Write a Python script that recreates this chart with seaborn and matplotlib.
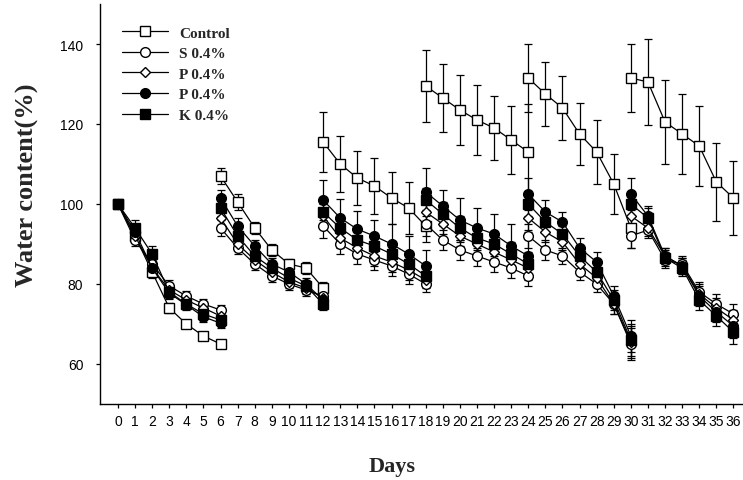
import matplotlib
matplotlib.use("Agg")
import numpy as np
import pandas as pd
import matplotlib.pyplot as plt
from matplotlib.lines import Line2D
import seaborn as sns

# Six 6-day drying cycles, each measured on 7 days (start day shared with previous end)
cycle_starts = [0, 6, 12, 18, 24, 30]
day_ticks = list(range(0, 37))

control = [100, 92, 83, 74, 70, 67, 65,
           107, 100.5, 94, 88.5, 85, 84, 79,
           115.5, 110, 106.5, 104.5, 101.5, 99, 94.5,
           129.5, 126.5, 123.5, 121, 119, 116, 113,
           131.5, 127.5, 124, 117.5, 113, 105, 94,
           131.5, 130.5, 120.5, 117.5, 114.5, 105.5, 101.5]
control_err = [0.5, 1.5, 1.5, 1.2, 1, 1, 1,
               2, 2, 1.5, 1.5, 1.2, 1.5, 1.5,
               7.5, 7, 6.7, 7, 6.5, 6.5, 4,
               9, 8.5, 8.7, 8.7, 8, 8.5, 12,
               8.5, 8, 8, 7.8, 8, 7.5, 5,
               8.5, 10.7, 10.5, 10, 10, 9.7, 9.2]

s_04 = [100, 91, 85, 79.5, 77, 75, 73.5,
        94, 89, 85, 82, 80, 78.5, 77,
        94.5, 90, 87.5, 86, 84.5, 82.5, 80,
        95, 91, 88.5, 87, 85.5, 84, 82,
        92, 88.5, 87, 83, 80, 75, 65,
        92, 93.5, 86, 85, 78, 75, 72.5]
s_04_err = [0.5, 1.5, 1.5, 1.5, 1.2, 1.2, 1.2,
            2, 1.5, 1.5, 1.5, 1.5, 1.5, 1.5,
            3, 2.5, 2.5, 2.5, 2.5, 2.5, 2,
            3, 2.5, 2.5, 2.5, 2.5, 2.5, 2.5,
            3, 2.5, 2, 2, 2, 2.5, 4,
            3, 2, 2, 2, 2.5, 2.5, 2.5]

p_04_open = [100, 92, 84, 78.5, 76, 74, 72,
             96.5, 90, 86, 83, 80.5, 79, 76.5,
             97, 91.5, 89, 87, 85.5, 83.5, 81,
             98, 95, 92, 90, 88, 86, 84,
             96.5, 93, 90.5, 85, 81.5, 75, 65.5,
             97, 94, 87, 84.5, 77.5, 74, 71]
p_04_open_err = [0.5, 1.5, 1.5, 1.5, 1.2, 1.2, 1.2,
                 2, 1.5, 1.5, 1.5, 1.5, 1.5, 1.5,
                 3, 2.5, 2.5, 2.5, 2.5, 2.5, 2,
                 3, 2.5, 2.5, 2.5, 2.5, 2.5, 2.5,
                 3, 2.5, 2, 2, 2, 2.5, 4,
                 3, 2, 2, 2, 2.5, 2.5, 2.5]

p_04_filled = [100, 93, 84, 77.7, 74.8, 71.8, 70.2,
               101.5, 94.5, 89.5, 85, 83, 80, 76,
               101, 96.5, 93.7, 92, 90, 87.5, 84.5,
               103, 99.5, 96, 94, 92.5, 89.5, 87,
               102.5, 98, 95.5, 89, 85.5, 77, 67,
               102.5, 97, 87, 84.5, 77, 73, 69.5]
p_04_filled_err = [0.5, 2, 2, 1.5, 1.2, 1.2, 1.2,
                   2, 2, 1.5, 1.5, 1.5, 1.5, 1.5,
                   5, 4.7, 4.5, 4, 5, 4.5, 4,
                   6, 4, 5.5, 5, 5, 5.5, 6,
                   4, 3, 2.5, 2.5, 2.5, 2.5, 4,
                   4, 2.5, 2, 2, 2.5, 2.5, 3]

k_04 = [100, 94, 87.5, 78, 75, 72.5, 71,
        99, 92, 87, 84, 81.5, 79.5, 75,
        98, 94, 91, 89.5, 87.5, 85, 82,
        101, 97.5, 94, 91.5, 90, 87.5, 85,
        100, 95.5, 92.5, 87, 83, 76, 66,
        100, 96.5, 86.5, 84, 76, 72, 68]
k_04_err = [0.5, 2, 2, 1.5, 1.2, 1.2, 1.2,
            2, 2, 1.5, 1.5, 1.5, 1.5, 1.5,
            3, 3, 3, 3, 3, 3, 2.5,
            3, 3, 3, 3, 3, 3, 3,
            3, 2.5, 2, 2, 2, 2.5, 4,
            3, 2.5, 2, 2, 2.5, 2.5, 3]

series_names = ["Control", "S 0.4%", "P 0.4%", "P 0.4% ", "K 0.4%"]
legend_labels = ["Control", "S 0.4%", "P 0.4%", "P 0.4%", "K 0.4%"]
series_values = [control, s_04, p_04_open, p_04_filled, k_04]
series_errors = [control_err, s_04_err, p_04_open_err, p_04_filled_err, k_04_err]
series_markers = ["s", "o", "D", "o", "s"]
series_faces = ["white", "white", "white", "black", "black"]
series_sizes = [7, 7, 5.5, 7, 6.5]

# long-format table: one row per measurement
rows = []
for name, vals, errs in zip(series_names, series_values, series_errors):
    for c, start in enumerate(cycle_starts):
        for k in range(7):
            rows.append({"series": name, "cycle": c, "day": start + k,
                         "value": vals[c * 7 + k], "err": errs[c * 7 + k]})
df = pd.DataFrame(rows)

sns.set_theme(style="ticks")
plt.rcParams["font.family"] = ["Liberation Sans", "DejaVu Sans"]

fig = plt.figure(figsize=(7.43, 4.81), dpi=100)
ax = fig.add_axes([100 / 743, 76 / 481, 642 / 743, 400 / 481])

for name, mk, fc, ms in zip(series_names, series_markers, series_faces, series_sizes):
    sub = df[df["series"] == name]
    for c in range(len(cycle_starts)):
        seg = sub[sub["cycle"] == c]
        ax.errorbar(seg["day"], seg["value"], yerr=seg["err"], fmt="none",
                    ecolor="black", elinewidth=0.9, capsize=3, capthick=0.9, zorder=2)
        sns.lineplot(data=seg, x="day", y="value", ax=ax, color="black",
                     linewidth=0.9, marker=mk, markersize=ms,
                     markerfacecolor=fc, markeredgecolor="black",
                     markeredgewidth=1.0, legend=False, zorder=3)

ax.set_xlim(-1.05, 36.5)
ax.set_ylim(50, 150)
ax.set_xticks(day_ticks)
ax.set_xticklabels([str(d) for d in day_ticks])
ax.set_yticks([60, 80, 100, 120, 140])
ax.tick_params(axis="both", which="major", direction="out", length=3,
               width=0.9, colors="black", labelsize=10)
ax.tick_params(axis="y", pad=9)
ax.tick_params(axis="x", pad=4)

for side in ["top", "right"]:
    ax.spines[side].set_visible(False)
for side in ["left", "bottom"]:
    ax.spines[side].set_linewidth(1.0)
    ax.spines[side].set_color("black")

ax.set_xlabel("Days", fontsize=16, fontweight="bold", family="Liberation Serif")
ax.set_ylabel("Water content(%)", fontsize=19, fontweight="bold", family="Liberation Serif")
ax.xaxis.set_label_coords(0.455, -0.13)
ax.yaxis.set_label_coords(-0.095, 0.55)

handles = [Line2D([0], [0], color="black", linewidth=0.9, marker=mk, markersize=ms,
                  markerfacecolor=fc, markeredgecolor="black")
           for mk, fc, ms in zip(series_markers, series_faces, series_sizes)]
ax.legend(handles, legend_labels, loc="upper left", bbox_to_anchor=(0.035, 0.945),
          frameon=False, handlelength=3.0, handletextpad=0.7, labelspacing=0.45,
          borderpad=0, borderaxespad=0,
          prop={"family": "Liberation Serif", "weight": "bold", "size": 11})

fig.savefig("out.png", dpi=100, facecolor="white")
